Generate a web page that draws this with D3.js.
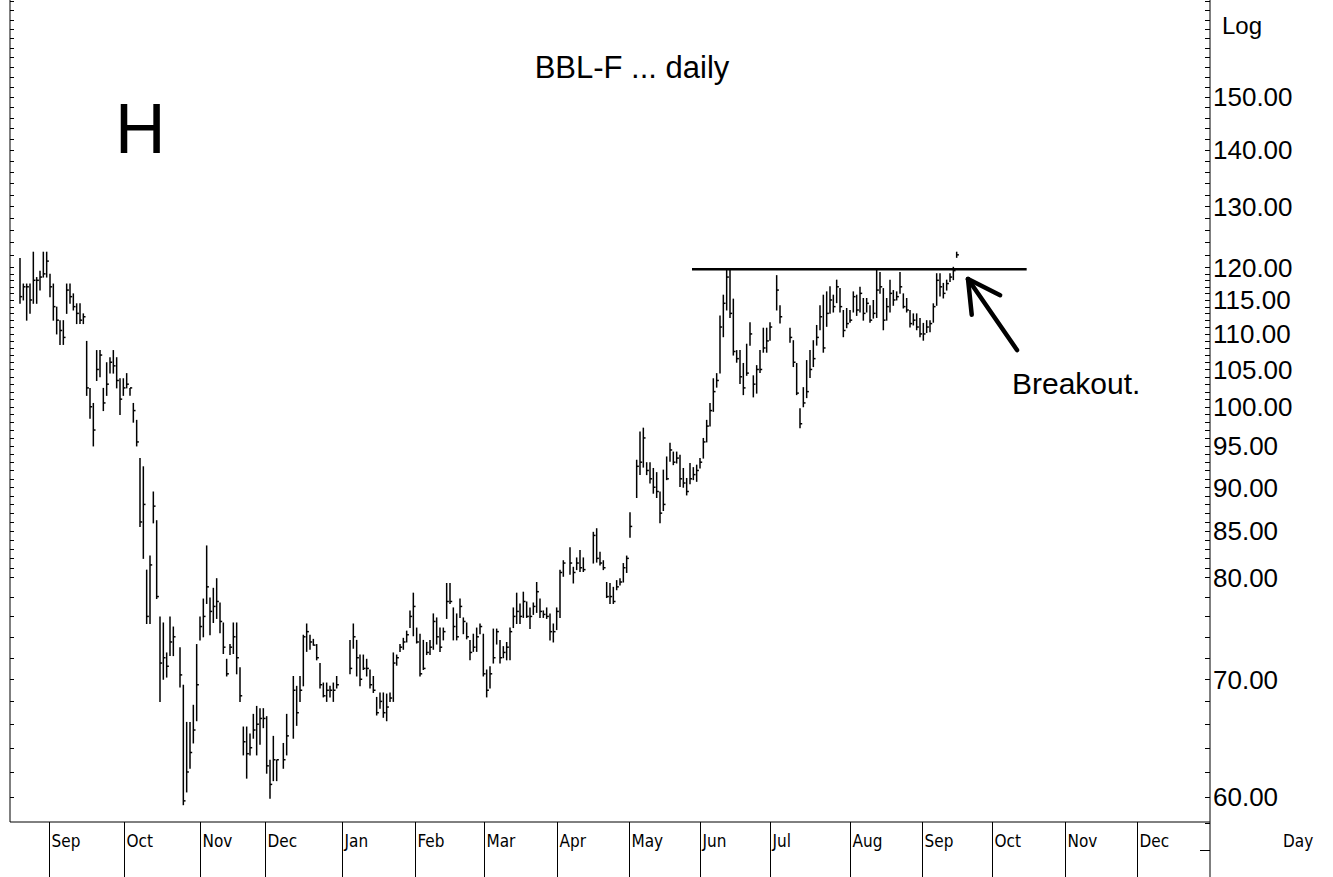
<!DOCTYPE html>
<html>
<head>
<meta charset="utf-8">
<script src="https://cdn.jsdelivr.net/npm/d3@7"></script>
<style>
  body { margin: 0; background: #fff; }
  svg { display: block; }
</style>
</head>
<body>
<svg width="1333" height="877"></svg>
<script>
const width = 1333, height = 877;
const plotLeft = 10, plotRight = 1210, plotTop = 0, plotBottom = 822;
const svg = d3.select("svg");

// daily bars, one slot per weekday (null = holiday, no trading)
const highs = [
  121.5, 117.5, 117.5, 117.5, 122.5, 118.5, 119.5, 122.5, 122.5, 119,
  117.5, 114, 112, 112, 117.5, 117.5, 116, 114.5, 114.5, 113,
  109, 102.5, 100.5, 107.7, 107.7, 102.5, 106, 106.7, 107.7, 106.7,
  103.8, 103.8, 104.5, 102.5, 100.5, 98.3, 93.5, 92.5, 80.8, 82.3,
  89.5, 86.2, 76, 75.4, 72.5, 76, 75, null, 73, 69.5,
  66.2, 66.2, 67.7, 73.3, 76, 77.8, 83.4, 77.9, 78.9, 79.9,
  77.4, 75.4, 71.9, 73.3, 75.4, 75.4, 71.1, 65.8, 65.8, 65.2,
  66.9, 67.6, 67.4, 67.4, 66.7, 63, 65, 63, null, 64.4,
  66.9, null, 70.3, 69.4, 70.3, 74.2, 75.3, 74.2, 73.8, 73.3,
  71.5, 69.7, 69.7, 69.4, 69.7, 70.3, null, null, null, 73.7,
  75.3, 73.7, 72.3, 72.3, 71.9, 70.9, 70.3, 68.4, 68.8, 68.8,
  68.7, 68.8, 72.5, 72.3, 73.3, 73.9, 74.6, 76.6, 78.4, 74.9,
  74.3, 73.7, 73.5, 73.7, 76.3, 75.9, 74.9, 74.9, 79.4, 79.4,
  76.9, 76.3, 77.8, 75.9, 75.4, 73.7, 74.3, 74.9, 75.3, 74.3,
  70.9, 71.2, 74.8, 74.8, 73.7, 73.1, 73.5, 74.9, 76.9, 78.4,
  77.3, 78.5, 77.5, 76.9, 77.4, 79.5, 77.8, 76.6, 76.9, 76.3,
  75.3, 76.9, 80.8, 81.8, null, 83.2, 81.1, 82.1, 82.9, 82.1,
  null, null, 84.9, 85.3, 82.7, 81.8, 79.5, 79.4, 79, 79.7,
  79.9, 81.5, 82.3, 87.1, null, 93.3, 96.8, 97.3, 93, 93,
  92.3, 91.8, 89.5, 92.1, 93.7, 95.4, 94.3, 94.3, 93.9, 92.3,
  91.1, 92.9, 92.4, 92.7, 93.5, 96, 98.3, 100.5, 103.8, 104.5,
  112.7, 115.8, 119.6, 119.6, 115.2, 107.7, 107.7, 105.9, 108.6, 111.7,
  104.2, 105.6, 107.7, 110.9, 110.9, 111.7, null, 118.8, 114.2, null,
  null, 110.9, 109.1, 105.9, 99.8, 102.6, 106.3, 107.7, 109.1, 111.3,
  114.2, 115.8, 116.3, 117.1, 115.8, 118.1, 116.8, 113.5, 113.8, 113.5,
  116.3, 115.8, 117, 115.3, 115.3, 114.2, 115, 119.6, 119.3, 116.8,
  115.3, 118.1, 116.5, 116.3, 119.3, 116, 115.3, 113.5, 113, 113,
  112.3, 111.6, 112, 112, 114.5, 119.1, 119.1, 117.6, 118.1, 119.1,
  120.1, 122.5
];
const lows = [
  114.5, 115, 112, 113, 114.5, 114.5, 116.5, 118.5, 118.5, 115.5,
  112, 110, 108.5, 108.5, 113, 114.5, 113.5, 111.5, 111.5, 111.5,
  101.5, 98.5, 95, 103.5, 104, 99.5, 101.5, 104.5, 104.5, 102.5,
  99, 101.5, 102.5, 101.5, 98, 95, 85.5, 82, 75.3, 75.3,
  85.9, 77.8, 68, 70, 70.2, 72.2, 72.2, null, 69.3, 59.4,
  60.4, 62.3, 64.4, 66.3, 73.7, 74, 77.3, 74.2, 75.4, 75.8,
  74.4, 72.4, 70.3, 72.3, 72.4, 70.5, 68, 63.4, 61.5, 63.4,
  64.8, 63.4, 64.3, 65.7, 61.9, 59.9, 61.3, 61.3, null, 62.3,
  63.4, null, 64.8, 65.9, 68, 69.4, 72.6, 72.8, 73.2, 71.8,
  69.2, 68.4, 68, 68.4, 68, 69.2, null, null, null, 70.5,
  72.9, 70.3, 69.4, 70.9, 70.3, 69.2, 68.8, 66.8, 67.4, 66.6,
  66.3, 68, 68, 71.3, 72.6, 72.8, 73.5, 74.9, 74.1, 73.4,
  70.3, 70.9, 72.3, 72.3, 72.8, 73.3, 72.6, 73.7, 75.8, 77.3,
  73.7, 73.7, 75.9, 74.3, 73.8, 71.8, 72.6, 72.6, 74.3, 70.3,
  68.4, 69.2, 71.5, 73.3, 71.5, 72, 71.8, 71.8, 74.9, 75.3,
  75.3, 75.9, 75.9, 74.8, 76.2, 76.4, 75.9, 75.9, 75.8, 73.7,
  73.5, 74.7, 75.9, 80.1, null, 80.3, 79.4, 80.8, 80.6, 80.6,
  null, null, 81.5, 81.6, 81.3, 80.8, 77.9, 77.3, 77.3, 78.7,
  79.2, 79.5, 80.5, 84.3, null, 88.8, 91.5, 92.4, 91.5, 90.5,
  89.3, 88.8, 85.9, 87.3, 90.9, 93.1, 92.7, 92.9, 90.1, 90,
  89.1, 90.4, 90.9, 90.7, 92.3, 93.5, 95.5, 97.5, 99.4, 102.6,
  104.5, 109.6, 113.5, 112.4, 107, 106, 103.1, 101.6, 104.2, 108.4,
  101.3, 101.8, 104.6, 107.4, 107.4, 109.1, null, 113.5, 111.6, null,
  null, 108.8, 105.4, 101.6, 97.3, 100, 101.2, 103.9, 105.4, 108.4,
  110.6, 107.4, 111.1, 113, 113.2, 114.6, 113.2, 109.6, 110.9, 111.7,
  113.2, 112.7, 113.2, 112, 113.2, 111.7, 112.3, 112.4, 116, 110.6,
  112, 113.2, 114.2, 115, 116, 113.8, 113.2, 111, 111.3, 110.6,
  109.6, 109.1, 110.2, 110.3, 111.7, 114.2, 115.6, 115.3, 116.5, 117.8,
  118.1, 121.6
];
const closes = [
  115.5, 117, 117, 115, 118, 118, 118.5, 119, 121, 117,
  114, 112, 110.5, 109.5, 116.5, 115.5, 114, 113, 112, 112.5,
  102.5, 100, 97, 105, 107, 100.5, 103, 106, 105.5, 103.5,
  101, 102.5, 103, 102.5, 99.5, 95.5, 86, 88, 76, 81.3,
  87.8, 78, 71.5, 72, 71.2, 73.5, 74, null, 70.4, 59.7,
  62, 63.6, 65.5, 69.5, 75, 76, 79, 76.5, 77, 77.5,
  75.5, 73, 70.5, 73, 74, 72, 68.5, 64.5, 63.5, 64,
  65.5, 66, 66.5, 66.5, 62.5, 61, 63, 63, null, 63,
  65, null, 69, 67, 69, 74, 74.5, 73.5, 73.2, 72,
  69.5, 68.5, 69, 69, 69, 69.5, null, null, null, 71,
  74, 72, 70, 71, 71, 69.5, 69, 67, 68, 67,
  67.5, 68.3, 71.5, 72, 73, 73.5, 74.2, 76, 77, 73.5,
  70.5, 71, 72.5, 73, 75.5, 74, 73, 74.5, 77.5, 77.5,
  75, 74, 77, 75.5, 74, 72.5, 73, 74, 75, 70.5,
  69, 70.5, 72, 74.5, 72, 72.5, 73, 74.5, 76, 76.5,
  76, 77.5, 76, 76, 77, 78.5, 76.5, 76.2, 76, 74.5,
  74.5, 76.5, 80.5, 81.5, null, 81.5, 80.5, 81.5, 81, 80.8,
  null, null, 84.5, 82, 81.5, 81, 78, 78, 77.5, 79,
  79.5, 81, 82, 85.5, null, 92.5, 93, 96, 92, 91,
  90, 89.5, 87, 88, 91, 94.5, 93, 93.5, 91, 90.5,
  89.5, 91, 91.5, 92, 93, 95.5, 97.5, 99.5, 102, 103.5,
  111, 114.5, 118.5, 113, 107.5, 106.5, 104, 102.5, 104.5, 110,
  103, 105, 105, 108, 109, 111, null, 116.5, 112.5, null,
  null, 109.5, 106, 101.8, 97.8, 100.5, 102, 105, 106.5, 109.5,
  112.5, 108, 113, 115, 114, 117, 114, 110.5, 111.5, 112,
  115.5, 113.5, 116, 113, 114.5, 112, 113, 116.5, 117, 112,
  114, 116, 115, 115.5, 117, 114, 113.5, 111.5, 112, 111,
  110, 110, 111, 111.5, 114, 118, 117, 116, 117.5, 118.5,
  119.5, 122
];

// month boundaries (in weekday slots) and labels
const monthLabels = ["Sep", "Oct", "Nov", "Dec", "Jan", "Feb", "Mar", "Apr",
                     "May", "Jun", "Jul", "Aug", "Sep", "Oct", "Nov", "Dec"];
const monthStarts = [8.7, 31.2, 54, 73.5, 96.6, 118.5, 139.2, 161.1,
                     182.7, 204, 225, 249, 270.6, 291.6, 313.5, 335.1];

const priceLabels = [150, 140, 130, 120, 115, 110, 105, 100, 95, 90, 85, 80, 70, 60];

// resistance line drawn on the chart
const resistance = { from: 201.6, to: 302, level: 119.7 };

// scales
const x = d3.scaleLinear().domain([-3, 357]).range([plotLeft, plotRight]);
const y = d3.scaleLog().domain([58.07, 170.3]).range([plotBottom, plotTop]);

const fontMain = "'Liberation Sans', Arial, sans-serif";
const fontAxis = "'DejaVu Sans Condensed', 'DejaVu Sans', sans-serif";

// axes frame
svg.append("line")
    .attr("x1", plotLeft).attr("x2", plotLeft)
    .attr("y1", 0).attr("y2", plotBottom)
    .attr("stroke", "#000").attr("stroke-width", 1);

svg.append("line")
    .attr("x1", plotRight).attr("x2", plotRight)
    .attr("y1", 0).attr("y2", height)
    .attr("stroke", "#000").attr("stroke-width", 1);

svg.append("line")
    .attr("x1", plotLeft).attr("x2", plotRight)
    .attr("y1", plotBottom).attr("y2", plotBottom)
    .attr("stroke", "#000").attr("stroke-width", 1);

svg.append("line")
    .attr("x1", plotRight - 10).attr("x2", plotRight)
    .attr("y1", 850.5).attr("y2", 850.5)
    .attr("stroke", "#000").attr("stroke-width", 1);

// minor log ticks on both sides
const minorTicks = [];
for (let v = 56; v <= 170; v += (v >= 80 && v < 120 ? 1 : 2)) minorTicks.push(v);

svg.append("g").selectAll("line")
    .data(minorTicks)
    .join("line")
    .attr("x1", plotRight - 5).attr("x2", plotRight)
    .attr("y1", d => Math.round(y(d)) + 0.5)
    .attr("y2", d => Math.round(y(d)) + 0.5)
    .attr("stroke", "#000");

svg.append("g").selectAll("line")
    .data(minorTicks.filter(d => y(d) <= plotBottom))
    .join("line")
    .attr("x1", plotLeft).attr("x2", plotLeft + 4)
    .attr("y1", d => Math.round(y(d)) + 0.5)
    .attr("y2", d => Math.round(y(d)) + 0.5)
    .attr("stroke", "#000");

// price labels on the right
svg.append("g").selectAll("text")
    .data(priceLabels)
    .join("text")
    .attr("x", plotRight + 3)
    .attr("y", d => y(d))
    .attr("dy", "0.36em")
    .style("font-family", fontMain)
    .style("font-size", "26px")
    .text(d => d.toFixed(2));

svg.append("text")
    .attr("x", 1222).attr("y", 34)
    .style("font-family", fontMain)
    .style("font-size", "24px")
    .text("Log");

// month separators and labels
const months = svg.append("g");
monthStarts.forEach((m, i) => {
    const mx = Math.round(x(m)) + 0.5;
    months.append("line")
        .attr("x1", mx).attr("x2", mx)
        .attr("y1", plotBottom).attr("y2", height)
        .attr("stroke", "#000");
    months.append("text")
        .attr("x", mx + 2).attr("y", 847)
        .style("font-family", fontAxis)
        .style("font-size", "17px")
        .text(monthLabels[i]);
});

svg.append("text")
    .attr("x", 1283).attr("y", 847)
    .style("font-family", fontAxis)
    .style("font-size", "17px")
    .text("Day");

// high-low-close bars
const bars = highs.map((h, i) => ({ i, h, l: lows[i], c: closes[i] }))
    .filter(d => d.h != null);

const barG = svg.append("g").attr("stroke", "#000").attr("stroke-width", 1.5);
barG.selectAll("line.hl")
    .data(bars)
    .join("line")
    .attr("class", "hl")
    .attr("x1", d => x(d.i)).attr("x2", d => x(d.i))
    .attr("y1", d => y(d.h)).attr("y2", d => y(d.l) + 0.5);

barG.selectAll("line.cl")
    .data(bars)
    .join("line")
    .attr("class", "cl")
    .attr("x1", d => x(d.i)).attr("x2", d => x(d.i) + 2.2)
    .attr("y1", d => y(d.c)).attr("y2", d => y(d.c));

// resistance line
svg.append("line")
    .attr("x1", x(resistance.from)).attr("x2", x(resistance.to))
    .attr("y1", y(resistance.level)).attr("y2", y(resistance.level))
    .attr("stroke", "#000").attr("stroke-width", 2.5);

// breakout arrow
const tip = [x(284.4), y(118.2)];
const tail = [x(299.1), y(107.7)];
const ang = Math.atan2(tail[1] - tip[1], tail[0] - tip[0]);
const headLen = 36, spread = 0.5;
const arrow = svg.append("g")
    .attr("stroke", "#000").attr("stroke-width", 4.5)
    .attr("stroke-linecap", "round").attr("fill", "none");
arrow.append("line")
    .attr("x1", tip[0]).attr("y1", tip[1])
    .attr("x2", tail[0]).attr("y2", tail[1]);
[ang + spread, ang - spread].forEach(a => {
    arrow.append("line")
        .attr("x1", tip[0]).attr("y1", tip[1])
        .attr("x2", tip[0] + headLen * Math.cos(a))
        .attr("y2", tip[1] + headLen * Math.sin(a));
});

// titles and notes
svg.append("text")
    .attr("x", 632).attr("y", 78)
    .attr("text-anchor", "middle")
    .style("font-family", fontMain)
    .style("font-size", "31px")
    .text("BBL-F ... daily");

svg.append("text")
    .attr("x", 115).attr("y", 153)
    .style("font-family", fontMain)
    .style("font-size", "70px")
    .text("H");

svg.append("text")
    .attr("x", 1012).attr("y", 394)
    .style("font-family", fontMain)
    .style("font-size", "30px")
    .text("Breakout.");
</script>
</body>
</html>
